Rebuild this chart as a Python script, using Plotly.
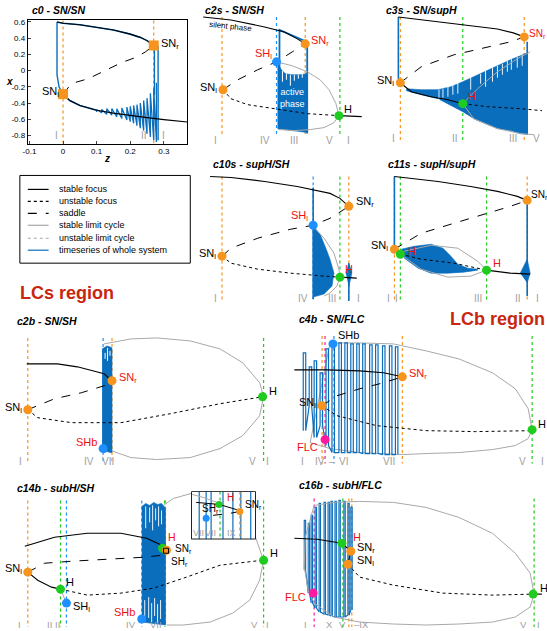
import plotly.graph_objects as go

W, H = 547, 631
BLUE = '#0a6ebd'
ORANGE = '#f7941d'
GREEN = '#1ecb1e'
LBLUE = '#1e8fff'
MAGENTA = '#ff1aa0'
RED = '#ee1111'
GRAY = '#a8a8a8'
TXTGRAY = '#a0a0a0'
REGRED = '#c8260e'
FONT = 'Liberation Sans, Arial, sans-serif'

# ================= DATA =================
# --- c0 (real axes: parameter z, state x)
c0_up_z = [-0.018, 0.0, 0.05, 0.1, 0.15, 0.2, 0.23, 0.25, 0.27]
c0_up_x = [0.60, 0.585, 0.565, 0.535, 0.50, 0.45, 0.41, 0.37, 0.31]
c0_sad_z = [0.0, 0.025, 0.075, 0.125, 0.175, 0.215, 0.245, 0.27]
c0_sad_x = [-0.29, -0.16, -0.10, 0.0, 0.10, 0.16, 0.23, 0.31]
c0_lo_z = [0.0, 0.02, 0.05, 0.1, 0.15, 0.2, 0.25, 0.3, 0.37]
c0_lo_x = [-0.29, -0.37, -0.43, -0.49, -0.525, -0.555, -0.58, -0.605, -0.635]
c0_drop_z = [-0.018, -0.018, -0.012, -0.005, 0.0]
c0_drop_x = [0.60, -0.05, -0.20, -0.27, -0.30]
c0_spk_z = [0.10, 0.115, 0.13, 0.145, 0.16, 0.175, 0.19, 0.20, 0.21, 0.22, 0.23, 0.24, 0.25, 0.26, 0.27, 0.278]
c0_spk_lo = [-0.51, -0.52, -0.54, -0.55, -0.57, -0.59, -0.61, -0.63, -0.65, -0.68, -0.71, -0.74, -0.78, -0.82, -0.86, -0.88]
c0_spk_hi = [-0.48, -0.48, -0.47, -0.47, -0.47, -0.46, -0.45, -0.44, -0.43, -0.42, -0.40, -0.37, -0.34, -0.28, -0.22, -0.15]
c0_rise_z = [0.283, 0.283, 0.272, 0.272]
c0_rise_x = [-0.86, 0.30, 0.31, -0.30]
c0_sn_z = [0.0, 0.27]
c0_sn_x = [-0.29, 0.31]
c0_xticks = [-0.1, 0.0, 0.1, 0.2, 0.3]
c0_xtick_text = ['-0.1', '0', '0.1', '0.2', '0.3']
c0_yticks = [0.6, 0.4, 0.2, 0.0, -0.2, -0.4, -0.6, -0.8]
c0_ytick_text = ['0.6', '0.4', '0.2', '0', '-0.2', '-0.4', '-0.6', '-0.8']
c0_regions = [('I', -0.02), ('II', 0.24), ('I', 0.30)]

# --- schematic panels (arbitrary state/parameter units of each sketch)
c2s_up = ([200, 228, 262, 282, 295, 303], [15, 18, 25, 30, 37, 42])
c2s_sad = ([220, 235, 255, 274, 290, 303], [88, 78, 68, 60, 50, 42])
c2s_unst = ([220, 228, 245, 278, 305, 337], [88, 97, 103, 108, 112, 114])
c2s_stab2 = ([337, 360], [114, 115])
c2s_lc = ([274, 290, 305, 318, 327, 334, 337, 332, 322, 308, 292, 277],
          [60, 64, 70, 78, 88, 102, 114, 121, 126, 128, 129, 128])
c2s_blk = ([275, 279, 283, 290, 297, 305, 305, 297, 290, 283, 279, 275],
           [61, 68, 72, 73, 73, 72, 131, 130, 129, 128, 128, 127])
c2s_ts = ([305, 305, 300, 290, 282, 277, 277], [132, 40, 38, 34, 30, 28, 128])
c2s_notch = ([280, 284, 288, 292, 296, 300], [69, 72, 73, 73, 73, 72], [80, 78, 84, 79, 77, 76])

c3s_up = ([397, 437, 470, 497, 513, 524], [15, 20, 24, 27, 31, 35])
c3s_sad = ([399, 420, 453, 487, 510, 524], [81, 65, 53, 45, 40, 35])
c3s_stab_lo = ([399, 410, 430, 447, 462], [81, 90, 95, 98, 102])
c3s_unst = ([462, 487, 520, 542], [102, 105, 107, 109])
c3s_lc_up = ([462, 477, 497, 517, 530], [102, 87, 70, 57, 50])
c3s_lc_lo = ([462, 473, 497, 520, 533], [102, 117, 127, 132, 133])
c3s_blk = ([405, 420, 437, 450, 462, 475, 487, 500, 510, 520, 527,
            527, 520, 510, 497, 487, 475, 462, 450, 437, 420, 405],
           [87, 88, 88, 85, 80, 74, 68, 62, 58, 54, 51,
            133, 132, 129, 127, 123, 118, 110, 104, 97, 93, 89])
c3s_ts = ([397, 397, 399, None, 527, 527], [15, 76, 81, None, 40, 133])
c3s_notch = ([438, 442, 447, 452, 457, 470, 480, 485, 492, 497, 502, 507, 511, 517, 522],
             [88, 87, 84, 82, 80, 75, 72, 69, 66, 64, 62, 59, 57, 55, 53],
             [99, 96, 95, 93, 92, 88, 82, 85, 80, 76, 73, 70, 68, 66, 64])

c10s_up = ([207, 228, 262, 295, 328, 338, 347], [175, 176, 180, 185, 192, 197, 205])
c10s_sad = ([219, 228, 255, 288, 311, 328, 347], [255, 247, 237, 228, 224, 217, 205])
c10s_unst = ([219, 228, 255, 288, 322, 338], [255, 262, 268, 272, 275, 276])
c10s_stab2 = ([338, 355], [276, 277])
c10s_lc = ([311, 322, 332, 337, 338, 335, 328, 322], [225, 237, 252, 268, 276, 285, 292, 295])
c10s_blk = ([311, 315, 318, 323, 328, 332, 330, 322, 311], [225, 229, 233, 245, 258, 272, 285, 293, 296])
c10s_blip = ([344, 347, 350, 347], [272, 262, 272, 286])
c10s_ts = ([311, 311, None, 347, 347], [186, 298, None, 262, 300])

c11s_up = ([393, 437, 470, 497, 517, 527], [175, 180, 185, 190, 195, 199])
c11s_sad = ([393, 420, 453, 487, 510, 527], [248, 232, 222, 212, 205, 199])
c11s_stab_a = ([393, 399], [248, 253])
c11s_unst = ([399, 420, 453, 486], [253, 258, 262, 269])
c11s_stab_b = ([486, 510, 530], [269, 272, 273])
c11s_lc = ([399, 403, 430, 457, 477, 486, 470, 447, 420, 399],
           [253, 250, 244, 247, 260, 269, 275, 276, 268, 253])
c11s_blk = ([400, 413, 430, 442, 450, 457, 467, 477, 477, 463, 447, 430, 417, 403],
            [248, 245, 243, 247, 255, 263, 267, 268, 269, 271, 272, 272, 267, 257])
c11s_blip = ([520, 527, 530, 527], [272, 258, 272, 282])
c11s_ts = ([393, 393, None, 527, 527], [175, 245, None, 199, 295])

c2b_lc = ([100, 127, 153, 187, 217, 240, 257, 261, 257, 240, 217, 187, 153, 127, 107],
          [343, 338, 337, 340, 348, 362, 382, 396, 415, 435, 448, 457, 459, 457, 450])
c2b_up = ([22, 53, 73, 90, 100, 108], [363, 363, 366, 370, 373, 380])
c2b_sad = ([23, 50, 77, 100, 108], [409, 398, 392, 385, 380])
c2b_unst = ([23, 33, 67, 117, 167, 217, 260], [409, 417, 422, 422, 413, 403, 396])
c2b_blk = ([98, 100, 103, 106, 108, 108, 106, 103, 100, 98],
           [348, 347, 345, 346, 347, 452, 452, 451, 452, 450])
c2b_notch = ([101, 103.5, 106], [352, 347, 350], [358, 360, 355])

c4b_lc = ([308, 328, 358, 392, 425, 458, 492, 515, 528, 532, 528, 515, 492, 458, 425, 402, 358, 328, 308],
          [442, 342, 342, 343, 350, 358, 372, 388, 408, 429, 438, 445, 449, 452, 453, 454, 452, 448, 442])
c4b_up = ([292, 325, 358, 382, 401], [369, 369, 370, 372, 376])
c4b_sad = ([320, 335, 358, 382, 401], [405, 395, 388, 382, 376])
c4b_unst = ([320, 335, 375, 425, 475, 532], [405, 415, 425, 430, 431, 430])
c4b_osc_x = [301, 307, 312, 318, 324, 330, 337, 343, 349, 355, 361, 368, 374, 381, 388, 394]
c4b_osc_top = [352, 366, 360, 372, 348, 342, 342, 342, 343, 343, 343, 344, 344, 345, 345, 346]
c4b_osc_bot = [430, 405, 437, 425, 445, 452, 452, 452, 452, 452, 453, 453, 453, 454, 454, 454]

c14b_lc = ([160, 170, 188, 220, 245, 253, 258, 261, 257, 247, 230, 207, 180, 163],
           [505, 498, 493, 497, 515, 537, 550, 560, 580, 600, 613, 622, 625, 625])
c14b_up = ([20, 50, 83, 117, 143, 158, 163], [546, 537, 533, 533, 538, 545, 550])
c14b_sad = ([23, 40, 67, 100, 140, 159], [572, 563, 561, 559, 557, 555])
c14b_stab_lo = ([23, 33, 47, 56], [572, 580, 587, 589])
c14b_unst = ([56, 83, 117, 150, 183, 217, 260], [589, 595, 593, 588, 577, 565, 560])
c14b_lc_small = ([56, 58, 60, 62], [589, 594, 599, 603])
c14b_blk = ([138, 142, 146, 150, 154, 158, 162, 162, 138], [506, 503, 505, 502, 504, 503, 508, 625, 622])
c14b_notch = ([142, 146, 149, 152, 155, 158, 141, 145, 148, 151, 154, 157],
              [506, 507, 505, 508, 506, 510, 600, 597, 603, 598, 604, 600],
              [528, 522, 530, 520, 526, 524, 620, 618, 622, 616, 623, 619])
c14b_box = ([160, 165, 165, 160, 160], [548, 548, 553, 553, 548])

ins_bg = ([188, 253, 253, 188, 188], [491, 491, 539, 539, 491])
ins_blue_x = [196, 203, 208, 220, 230, 238, 248]
ins_stab = ([193, 216, 233, 237], [502, 504, 509, 511])
ins_sad = ([210, 227, 237], [515, 513, 511])
ins_lc = ([189, 200, 214], [494, 497, 502])

c16b_lc = ([312, 332, 358, 392, 425, 458, 492, 515, 530, 534, 530, 515, 492, 458, 425, 392, 358, 332, 312, 306, 302, 303, 312],
           [505, 502, 501, 502, 507, 517, 533, 553, 573, 594, 607, 617, 622, 624, 625, 624, 622, 617, 603, 590, 567, 537, 505])
c16b_up = ([292, 315, 340, 349], [538, 539, 543, 551])
c16b_sad = ([349, 346], [551, 564])
c16b_unst = ([346, 358, 392, 442, 492, 533], [564, 577, 585, 593, 595, 594])
c16b_stab2 = ([533, 542], [594, 594])
c16b_osc_x = [302, 306, 309, 313, 317, 322, 326, 329, 333, 337, 342, 346, 349]
c16b_osc_top = [520, 523, 515, 507, 503, 502, 502, 501, 501, 500, 501, 503, 507]
c16b_osc_bot = [570, 593, 603, 608, 612, 614, 615, 616, 617, 617, 617, 615, 610]

# ================= FIGURE =================
fig = go.Figure()

# pixel boxes of each panel (layout only)
boxes = {
    1: (23, 18, 184, 142),
    2: (195, 10, 370, 145),
    3: (375, 10, 547, 145),
    4: (195, 168, 370, 302),
    5: (370, 168, 547, 302),
    6: (0, 325, 275, 468),
    7: (275, 325, 547, 468),
    8: (0, 485, 275, 631),
    9: (275, 485, 547, 631),
    10: (188, 491, 253, 539),
}

def axn(n):
    return ('x', 'y') if n == 1 else (f'x{n}', f'y{n}')

for n, (x0, y0, x1, y1) in boxes.items():
    xk = 'xaxis' if n == 1 else f'xaxis{n}'
    yk = 'yaxis' if n == 1 else f'yaxis{n}'
    xd = [x0 / W, x1 / W]
    yd = [1 - y1 / H, 1 - y0 / H]
    xa, ya = axn(n)
    if n == 1:
        fig.layout[xk] = dict(domain=xd, range=[-0.105, 0.37], anchor=ya, showline=True, mirror=True,
                              linecolor='black', linewidth=1, ticks='inside', ticklen=3,
                              tickvals=c0_xticks, ticktext=c0_xtick_text, showgrid=False, zeroline=False,
                              tickfont=dict(size=8, family=FONT, color='black'))
        fig.layout[yk] = dict(domain=yd, range=[-0.9, 0.625], anchor=xa, showline=True, mirror=True,
                              linecolor='black', linewidth=1, ticks='inside', ticklen=3,
                              tickvals=c0_yticks, ticktext=c0_ytick_text, showgrid=False, zeroline=False,
                              tickfont=dict(size=8, family=FONT, color='black'))
    else:
        fig.layout[xk] = dict(domain=xd, range=[x0, x1], anchor=ya, visible=False, fixedrange=True)
        fig.layout[yk] = dict(domain=yd, range=[y1, y0], anchor=xa, visible=False, fixedrange=True)


def tr(n, xs, ys, color, width=1.0, dash='solid', fill=None, fillcolor=None):
    xa, ya = axn(n)
    fig.add_trace(go.Scatter(x=list(xs), y=list(ys), mode='lines', xaxis=xa, yaxis=ya,
                             line=dict(color=color, width=width, dash=dash),
                             fill=fill, fillcolor=fillcolor, hoverinfo='skip', showlegend=False))


def poly(n, xy, color=BLUE):
    tr(n, xy[0], xy[1], color, width=0.6, fill='toself', fillcolor=color)


def segs(n, xs, y0s, y1s, color, width=1.0):
    px, py = [], []
    for x, a, b in zip(xs, y0s, y1s):
        px += [x, x, None]
        py += [a, b, None]
    tr(n, px, py, color, width)


def square_wave(n, xs, tops, bots, step, width=1.3):
    px, py = [], []
    for x, t, b in zip(xs, tops, bots):
        px += [x, x, x + step, x + step]
        py += [b, t, t, b]
    tr(n, px, py, BLUE, width)


def vlines(n, xs, color, y0, y1):
    for v in xs:
        tr(n, [v, v], [y0, y1], color, 1.2, 'dot')


def marks(n, xs, ys, colors, size=9, symbol='circle'):
    xa, ya = axn(n)
    fig.add_trace(go.Scatter(x=xs, y=ys, mode='markers', xaxis=xa, yaxis=ya,
                             marker=dict(color=colors, size=size, symbol=symbol, line=dict(width=0)),
                             hoverinfo='skip', showlegend=False, cliponaxis=False))


def lab(n, text, x, y, color='black', anchor='left', size=11, angle=0):
    xa, ya = axn(n)
    fig.add_annotation(x=x, y=y, xref=xa, yref=ya, text=text, showarrow=False, xanchor=anchor,
                       yanchor='middle', textangle=angle,
                       font=dict(family=FONT, size=size, color=color))


def regions(n, items, y, size=10):
    for t, x in items:
        lab(n, t, x, y, TXTGRAY, 'center', size)


def ptext(text, px, py, size=10.5, color='black', bold=True, italic=True, anchor='left'):
    t = text
    if bold:
        t = f'<b>{t}</b>'
    if italic:
        t = f'<i>{t}</i>'
    fig.add_annotation(x=px / W, y=1 - py / H, xref='paper', yref='paper', text=t, showarrow=False,
                       xanchor=anchor, yanchor='middle', font=dict(family=FONT, size=size, color=color))

SNl = 'SN<sub>l</sub>'
SNr = 'SN<sub>r</sub>'
SHl = 'SH<sub>l</sub>'
SHr = 'SH<sub>r</sub>'

# ---------- c0 ----------
vlines(1, [0.0, 0.27], ORANGE, -0.9, 0.625)
tr(1, c0_up_z, c0_up_x, BLUE, 1.6)
tr(1, c0_drop_z, c0_drop_x, BLUE, 1.4)
tr(1, c0_lo_z[:4], c0_lo_x[:4], BLUE, 1.6)
px, py = [], []
for z, lo, hi in zip(c0_spk_z, c0_spk_lo, c0_spk_hi):
    px += [z, z]
    py += [lo, hi]
tr(1, px, py, BLUE, 1.3)
tr(1, c0_rise_z, c0_rise_x, BLUE, 1.4)
tr(1, c0_up_z, c0_up_x, 'black', 1.1)
tr(1, c0_sad_z, c0_sad_x, 'black', 1, 'dash')
tr(1, c0_lo_z, c0_lo_x, 'black', 1.1)
marks(1, c0_sn_z, c0_sn_x, [ORANGE, ORANGE], 10, 'square')
lab(1, SNl, -0.005, -0.26, 'black', 'right', 11)
lab(1, SNr, 0.285, 0.33, 'black', 'left', 11)
for t, z in c0_regions:
    lab(1, t, z, -0.8, TXTGRAY, 'center', 10)
ptext('x', 5, 80, 10, 'black', True, True, 'center')
ptext('z', 103, 157, 10, 'black', True, True, 'center')

# ---------- c2s ----------
vlines(2, [219, 303], ORANGE, 15, 135)
vlines(2, [274], LBLUE, 15, 135)
vlines(2, [338], GREEN, 15, 135)
poly(2, c2s_blk)
segs(2, c2s_notch[0], c2s_notch[1], c2s_notch[2], 'white', 1)
tr(2, c2s_ts[0], c2s_ts[1], BLUE, 1.8)
tr(2, c2s_lc[0], c2s_lc[1], GRAY, 1)
tr(2, c2s_up[0], c2s_up[1], 'black', 1.1)
tr(2, c2s_sad[0], c2s_sad[1], 'black', 1, 'dash')
tr(2, c2s_unst[0], c2s_unst[1], 'black', 1, 'dot')
tr(2, c2s_stab2[0], c2s_stab2[1], 'black', 1.1)
marks(2, [220, 303, 274, 337], [88, 42, 60, 114], [ORANGE, ORANGE, LBLUE, GREEN])
lab(2, SNl, 216, 86, 'black', 'right')
lab(2, SNr, 307, 39, RED, 'left')
lab(2, SHl, 271, 52, RED, 'right')
lab(2, 'H', 340, 107, 'black', 'left')
lab(2, 'silent phase', 203, 25, 'black', 'left', 8, 6)
lab(2, 'active<br>phase', 290, 96, 'white', 'center', 9)
regions(2, [('I', 212), ('IV', 262), ('III', 292), ('V', 327), ('I', 347)], 139)

# ---------- c3s ----------
vlines(3, [399, 524], ORANGE, 15, 140)
vlines(3, [462], GREEN, 15, 140)
poly(3, c3s_blk)
segs(3, c3s_notch[0], c3s_notch[1], c3s_notch[2], 'white', 0.9)
tr(3, c3s_ts[0], c3s_ts[1], BLUE, 1.6)
tr(3, c3s_lc_up[0], c3s_lc_up[1], GRAY, 1)
tr(3, c3s_lc_lo[0], c3s_lc_lo[1], GRAY, 1)
tr(3, c3s_up[0], c3s_up[1], 'black', 1.1)
tr(3, c3s_sad[0], c3s_sad[1], 'black', 1, 'dash')
tr(3, c3s_stab_lo[0], c3s_stab_lo[1], 'black', 1.1)
tr(3, c3s_unst[0], c3s_unst[1], 'black', 1, 'dot')
marks(3, [399, 524, 462], [81, 35, 102], [ORANGE, ORANGE, GREEN])
lab(3, SNl, 395, 79, 'black', 'right')
lab(3, SNr, 527, 32, RED, 'left', 10)
lab(3, 'H', 465, 94, RED, 'left')
regions(3, [('I', 392), ('II', 454), ('III', 513), ('V', 536)], 137)

# ---------- c10s ----------
vlines(4, [219, 347], ORANGE, 175, 300)
vlines(4, [311], LBLUE, 175, 300)
vlines(4, [338], GREEN, 175, 300)
poly(4, c10s_blk)
poly(4, c10s_blip)
tr(4, c10s_ts[0], c10s_ts[1], BLUE, 1.6)
tr(4, c10s_lc[0], c10s_lc[1], GRAY, 1)
tr(4, c10s_up[0], c10s_up[1], 'black', 1.1)
tr(4, c10s_sad[0], c10s_sad[1], 'black', 1, 'dash')
tr(4, c10s_unst[0], c10s_unst[1], 'black', 1, 'dot')
tr(4, c10s_stab2[0], c10s_stab2[1], 'black', 1.1)
marks(4, [219, 347, 311, 338], [255, 205, 224, 276], [ORANGE, ORANGE, LBLUE, GREEN])
lab(4, SNl, 215, 253, 'black', 'right')
lab(4, SNr, 352, 201, 'black', 'left')
lab(4, SHl, 308, 215, RED, 'right')
lab(4, 'H', 341, 268, RED, 'left')
regions(4, [('I', 212), ('IV', 301), ('III', 330), ('I', 357)], 297)

# ---------- c11s ----------
vlines(5, [393, 527], ORANGE, 175, 300)
vlines(5, [399, 486], GREEN, 175, 300)
poly(5, c11s_blk)
poly(5, c11s_blip)
tr(5, c11s_ts[0], c11s_ts[1], BLUE, 1.6)
tr(5, c11s_lc[0], c11s_lc[1], GRAY, 1)
tr(5, c11s_up[0], c11s_up[1], 'black', 1.1)
tr(5, c11s_sad[0], c11s_sad[1], 'black', 1, 'dash')
tr(5, c11s_stab_a[0], c11s_stab_a[1], 'black', 1.1)
tr(5, c11s_unst[0], c11s_unst[1], 'black', 1, 'dot')
tr(5, c11s_stab_b[0], c11s_stab_b[1], 'black', 1.1)
marks(5, [393, 527, 399, 486], [248, 199, 253, 269], [ORANGE, ORANGE, GREEN, GREEN])
lab(5, SNl, 389, 245, 'black', 'right')
lab(5, SNr, 529, 194, 'black', 'left', 10)
lab(5, 'H', 405, 250, RED, 'left')
lab(5, 'H', 490, 262, RED, 'left')
regions(5, [('I', 387), ('I', 395), ('III', 477), ('II', 518), ('I', 537)], 297)

# ---------- c2b ----------
vlines(6, [23, 108], ORANGE, 337, 462)
vlines(6, [99], LBLUE, 337, 462)
vlines(6, [261], GREEN, 337, 462)
tr(6, c2b_lc[0], c2b_lc[1], GRAY, 1)
poly(6, c2b_blk)
segs(6, c2b_notch[0], c2b_notch[1], c2b_notch[2], 'white', 1)
tr(6, c2b_up[0], c2b_up[1], 'black', 1.1)
tr(6, c2b_sad[0], c2b_sad[1], 'black', 1, 'dash')
tr(6, c2b_unst[0], c2b_unst[1], 'black', 1, 'dot')
marks(6, [23, 108, 99, 260], [409, 380, 448, 396], [ORANGE, ORANGE, LBLUE, GREEN])
lab(6, SNl, 19, 407, 'black', 'right')
lab(6, SNr, 113, 377, RED, 'left')
lab(6, 'SHb', 95, 441, RED, 'right')
lab(6, 'H', 264, 390, 'black', 'left')
regions(6, [('I', 16), ('IV', 85), ('VII', 104), ('V', 250), ('I', 265)], 461)

# ---------- c4b ----------
vlines(7, [320, 401], ORANGE, 335, 463)
vlines(7, [323], MAGENTA, 335, 463)
vlines(7, [332], LBLUE, 335, 463)
vlines(7, [532], GREEN, 335, 463)
tr(7, c4b_lc[0], c4b_lc[1], GRAY, 1)
square_wave(7, c4b_osc_x, c4b_osc_top, c4b_osc_bot, 2.5, 1.2)
tr(7, c4b_up[0], c4b_up[1], 'black', 1.1)
tr(7, c4b_sad[0], c4b_sad[1], 'black', 1, 'dash')
tr(7, c4b_unst[0], c4b_unst[1], 'black', 1, 'dot')
marks(7, [320, 401, 331, 323, 532], [405, 376, 343, 439, 429], [ORANGE, ORANGE, LBLUE, MAGENTA, GREEN])
lab(7, SNl, 316, 402, 'black', 'right')
lab(7, SNr, 406, 373, RED, 'left')
lab(7, 'SHb', 334, 334, 'black', 'left')
lab(7, 'FLC', 318, 446, RED, 'right')
lab(7, 'H', 536, 423, 'black', 'left')
regions(7, [('I', 300), ('IV', 318), ('\u2013', 330), ('VI', 342), ('VII', 388), ('V', 522), ('I', 542)], 461)

# ---------- c14b ----------
vlines(8, [23, 162], ORANGE, 500, 627)
vlines(8, [56, 161, 261], GREEN, 500, 627)
vlines(8, [62, 138], LBLUE, 500, 627)
tr(8, c14b_lc[0], c14b_lc[1], GRAY, 1)
tr(8, c14b_lc_small[0], c14b_lc_small[1], GRAY, 1)
poly(8, c14b_blk)
segs(8, c14b_notch[0], c14b_notch[1], c14b_notch[2], 'white', 0.9)
tr(8, c14b_up[0], c14b_up[1], 'black', 1.1)
tr(8, c14b_sad[0], c14b_sad[1], 'black', 1, 'dash')
tr(8, c14b_stab_lo[0], c14b_stab_lo[1], 'black', 1.1)
tr(8, c14b_unst[0], c14b_unst[1], 'black', 1, 'dot')
marks(8, [23, 56, 62, 138, 159, 163, 261], [572, 589, 603, 619, 548, 550, 560],
      [ORANGE, GREEN, LBLUE, LBLUE, GREEN, ORANGE, GREEN])
tr(8, c14b_box[0], c14b_box[1], 'black', 1)
lab(8, SNl, 19, 569, 'black', 'right')
lab(8, 'H', 60, 582, 'black', 'left')
lab(8, SHl, 67, 607, 'black', 'left')
lab(8, 'SHb', 133, 612, RED, 'right')
lab(8, 'H', 162, 537, RED, 'left', 10.5)
lab(8, SNr, 170, 549, 'black', 'left', 10)
lab(8, SHr, 166, 562, 'black', 'left', 10)
lab(8, 'H', 265, 553, 'black', 'left')
regions(8, [('I', 15), ('II', 45), ('II', 53), ('IV', 127), ('VII', 152), ('V', 252), ('I', 265)], 624, 9.5)

# ---------- c16b ----------
vlines(9, [312], MAGENTA, 498, 627)
vlines(9, [341, 534], GREEN, 498, 627)
vlines(9, [347, 350], ORANGE, 498, 627)
square_wave(9, c16b_osc_x, c16b_osc_top, c16b_osc_bot, 1.4, 1.1)
tr(9, c16b_lc[0], c16b_lc[1], GRAY, 1)
tr(9, c16b_up[0], c16b_up[1], 'black', 1.1)
tr(9, c16b_sad[0], c16b_sad[1], 'black', 1, 'dash')
tr(9, c16b_unst[0], c16b_unst[1], 'black', 1, 'dot')
tr(9, c16b_stab2[0], c16b_stab2[1], 'black', 1.1)
marks(9, [311, 340, 349, 346, 533], [593, 543, 551, 564, 594], [MAGENTA, GREEN, ORANGE, ORANGE, GREEN])
lab(9, 'FLC', 306, 597, RED, 'right')
lab(9, 'H', 349, 537, RED, 'left')
lab(9, SNr, 353, 548, 'black', 'left')
lab(9, SNl, 353, 561, 'black', 'left')
lab(9, 'H', 538, 588, 'black', 'left')
regions(9, [('I', 303), ('X', 327), ('V', 341), ('\u2013IX', 360), ('V', 523), ('I', 538)], 624, 9.5)

# ---------- inset of c14b ----------
tr(10, ins_bg[0], ins_bg[1], 'black', 1.2, fill='toself', fillcolor='white')
segs(10, ins_blue_x, [491] * len(ins_blue_x), [539] * len(ins_blue_x), BLUE, 1.2)
vlines(10, [217], GREEN, 491, 539)
vlines(10, [237], ORANGE, 491, 539)
tr(10, ins_lc[0], ins_lc[1], GRAY, 1)
tr(10, ins_stab[0], ins_stab[1], 'black', 1)
tr(10, ins_sad[0], ins_sad[1], 'black', 1, 'dash')
tr(10, ins_bg[0], ins_bg[1], 'black', 1.2)
marks(10, [216, 237, 203], [504, 511, 518], [GREEN, ORANGE, LBLUE], 7)
lab(10, 'H', 222, 497, RED, 'left', 10)
lab(10, SNr, 240, 505, 'black', 'left', 10)
lab(10, SHr, 197, 509, 'black', 'left', 10)
regions(10, [('VII', 195), ('VII', 207), ('IX', 229)], 533, 9)

# ---------- legend ----------
fig.add_shape(type='rect', xref='paper', yref='paper', x0=15 / W, x1=187 / W,
              y0=1 - 262 / H, y1=1 - 174 / H, line=dict(color='black', width=1))
leg_items = [('stable focus', 'black', 'solid'), ('unstable focus', 'black', 'dot'),
             ('saddle', 'black', 'dash'), ('stable limit cycle', GRAY, 'solid'),
             ('unstable limit cycle', GRAY, 'dot'), ('timeseries of whole system', BLUE, 'solid')]
leg_rows = [188, 200, 212, 224, 237, 249]
for (txt, col, dsh), ry in zip(leg_items, leg_rows):
    fig.add_shape(type='line', xref='paper', yref='paper', x0=23 / W, x1=44 / W,
                  y0=1 - ry / H, y1=1 - ry / H, line=dict(color=col, width=1.2, dash=dsh))
    ptext(txt, 52, ry, 9, 'black', False, False)

# ---------- titles ----------
ptext('c0 - SN/SN', 25, 8)
ptext('c2s - SN/SH', 200, 8)
ptext('c3s - SN/supH', 383, 8)
ptext('c10s - supH/SH', 208, 163)
ptext('c11s - supH/supH', 385, 163)
ptext('c2b - SN/SH', 10, 320)
ptext('c4b - SN/FLC', 295, 318)
ptext('c14b - subH/SH', 10, 488)
ptext('c16b - subH/FLC', 295, 485)
ptext('LCs region', 13, 292, 18, REGRED, True, False)
ptext('LCb region', 447, 318, 18, REGRED, True, False)

fig.update_layout(width=W, height=H, margin=dict(l=0, r=0, t=0, b=0),
                  paper_bgcolor='white', plot_bgcolor='rgba(0,0,0,0)', showlegend=False,
                  font=dict(family=FONT))
fig.write_html('out.html', config={'displayModeBar': False, 'staticPlot': True},
               post_script="document.body.style.margin='0';document.body.style.padding='0';")
